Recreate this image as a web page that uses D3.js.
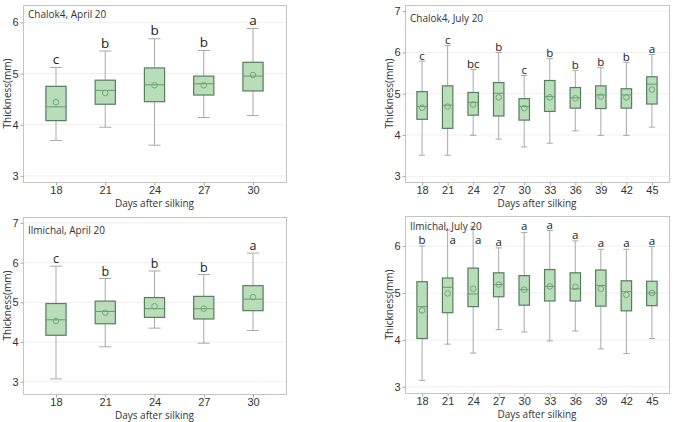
<!DOCTYPE html>
<meta charset="utf-8">
<head>
	<title>Thickness boxplots</title>
</head>
<style>
body { margin: 0; background: #fff; }
svg { display: block; font-family: "Open Sans", "Noto Sans", sans-serif; }
.frame { fill: none; stroke: #c4c4c4; }
.grid line { stroke: #efefef; }
.axis path { display: none; }
.axis line { stroke: #a8a8a8; }
.axis text { fill: #333; font-size: 11px; }
.whisker { stroke: #a9a9a9; }
.box { fill: #b9dcb9; stroke: #557f5e; stroke-width: 1.2; }
.median { stroke: #6a9a72; }
.mean { fill: none; stroke: #6fa878; stroke-width: 1; }
.letter { fill: #222; text-anchor: middle; }
.title, .xlab, .ylab { fill: #333; font-size: 10px; }
</style>
<body>
<svg width="673" height="422"></svg>

<script src="https://cdnjs.cloudflare.com/ajax/libs/d3/7.8.5/d3.min.js"></script>
<script>

// days after silking
var days5 = [18, 21, 24, 27, 30];
var days10 = [18, 21, 24, 27, 30, 33, 36, 39, 42, 45];

// each row: [min, q1, median, q3, max, mean]
var chalokApril = [
	[3.69, 4.08, 4.35, 4.75, 5.12, 4.44],
	[3.95, 4.40, 4.67, 4.87, 5.44, 4.62],
	[3.60, 4.45, 4.78, 5.11, 5.68, 4.77],
	[4.14, 4.58, 4.80, 4.95, 5.45, 4.77],
	[4.18, 4.66, 4.95, 5.22, 5.88, 4.97]
];
var chalokAprilLetters = ['c', 'b', 'b', 'b', 'a'];

var chalokJuly = [
	[3.51, 4.38, 4.69, 5.05, 5.79, 4.66],
	[3.51, 4.16, 4.72, 5.19, 6.17, 4.69],
	[3.99, 4.48, 4.79, 5.03, 5.59, 4.74],
	[3.90, 4.46, 5.01, 5.27, 6.00, 4.91],
	[3.71, 4.36, 4.69, 4.88, 5.44, 4.65],
	[3.80, 4.57, 4.93, 5.32, 5.85, 4.91],
	[4.10, 4.65, 4.90, 5.15, 5.56, 4.89],
	[3.99, 4.64, 4.97, 5.19, 5.63, 4.93],
	[3.99, 4.65, 4.97, 5.12, 5.76, 4.91],
	[4.19, 4.75, 5.23, 5.41, 5.95, 5.10]
];
var chalokJulyLetters = ['c', 'c', 'bc', 'b', 'c', 'b', 'b', 'b', 'b', 'a'];

var ilmichalApril = [
	[3.07, 4.17, 4.56, 4.97, 5.91, 4.53],
	[3.88, 4.46, 4.77, 5.03, 5.60, 4.74],
	[4.35, 4.62, 4.84, 5.12, 5.79, 4.90],
	[3.97, 4.58, 4.84, 5.15, 5.70, 4.84],
	[4.29, 4.79, 5.08, 5.42, 6.24, 5.13]
];
var ilmichalAprilLetters = ['c', 'b', 'b', 'b', 'a'];

var ilmichalJuly = [
	[3.14, 4.03, 4.71, 5.24, 6.00, 4.63],
	[3.91, 4.58, 5.12, 5.32, 6.34, 4.99],
	[3.72, 4.71, 4.98, 5.53, 6.41, 5.09],
	[4.22, 4.92, 5.18, 5.43, 5.96, 5.18],
	[4.17, 4.74, 5.07, 5.37, 6.29, 5.07],
	[3.98, 4.83, 5.14, 5.50, 6.33, 5.14],
	[4.19, 4.83, 5.09, 5.43, 6.11, 5.13],
	[3.81, 4.72, 5.16, 5.49, 5.93, 5.09],
	[3.71, 4.62, 5.03, 5.26, 5.93, 4.96],
	[4.03, 4.73, 5.00, 5.25, 5.99, 5.00]
];
var ilmichalJulyLetters = ['b', 'a', 'a', 'a', 'a', 'a', 'a', 'a', 'a', 'a'];
// letters that sit beside a tall whisker instead of on top of it
var ilmichalJulyLetterAt = [null, 6.0, 6.0, null, null, null, null, null, null, null];

var panels = [
	{title: 'Chalok4, April 20', days: days5, stats: chalokApril, letters: chalokAprilLetters,
	 x0: 23, x1: 286, y0: 5, y1: 182, dom: [2.88, 6.34], ticks: [3, 4, 5, 6], lf: 13.5, gap: 3.5, ty: 13},
	{title: 'Chalok4, July 20', days: days10, stats: chalokJuly, letters: chalokJulyLetters,
	 x0: 405, x1: 669, y0: 5, y1: 182, dom: [2.86, 7.15], ticks: [3, 4, 5, 6, 7], lf: 11.5, gap: 1.5, ty: 17},
	{title: 'Ilmichal, April 20', days: days5, stats: ilmichalApril, letters: ilmichalAprilLetters,
	 x0: 23, x1: 286, y0: 217, y1: 394, dom: [2.69, 7.15], ticks: [3, 4, 5, 6, 7], lf: 12.5, gap: 3, ty: 17},
	{title: 'Ilmichal, July 20', days: days10, stats: ilmichalJuly, letters: ilmichalJulyLetters, letterAt: ilmichalJulyLetterAt,
	 x0: 405, x1: 669, y0: 216, y1: 393, dom: [2.87, 6.64], ticks: [3, 4, 5, 6], lf: 11.5, gap: 2, ty: 14}
];

var svg = d3.select('svg');

panels.forEach(function(p) {
	var g = svg.append('g');

	var x = d3.scalePoint().domain(p.days).range([p.x0, p.x1]).padding(0.67);
	var y = d3.scaleLinear().domain(p.dom).range([p.y1, p.y0]);
	var bw = x.step() * 0.41;
	var cap = bw * 0.3;

	// faint gridlines
	g.append('g').attr('class', 'grid')
		.selectAll('line').data(p.ticks).enter().append('line')
		.attr('x1', p.x0).attr('x2', p.x1)
		.attr('y1', function(d){ return y(d); })
		.attr('y2', function(d){ return y(d); });

	g.append('rect').attr('class', 'frame')
		.attr('x', p.x0 + 0.5).attr('y', p.y0 + 0.5)
		.attr('width', p.x1 - p.x0).attr('height', p.y1 - p.y0);

	g.append('g').attr('class', 'axis')
		.attr('transform', 'translate(' + (p.x0 + 0.5) + ',0)')
		.call(d3.axisLeft(y).tickValues(p.ticks).tickFormat(d3.format('d')).tickSize(3).tickPadding(2));

	g.append('g').attr('class', 'axis')
		.attr('transform', 'translate(0,' + (p.y1 + 0.5) + ')')
		.call(d3.axisBottom(x).tickSize(3).tickPadding(1));

	var items = g.selectAll('.item').data(p.stats).enter().append('g')
		.attr('transform', function(d, i){ return 'translate(' + x(p.days[i]) + ',0)'; });

	// whiskers
	items.append('line').attr('class', 'whisker')
		.attr('x1', 0).attr('x2', 0)
		.attr('y1', function(d){ return y(d[0]); })
		.attr('y2', function(d){ return y(d[4]); });
	[0, 4].forEach(function(k) {
		items.append('line').attr('class', 'whisker')
			.attr('x1', -cap).attr('x2', cap)
			.attr('y1', function(d){ return y(d[k]); })
			.attr('y2', function(d){ return y(d[k]); });
	});

	items.append('rect').attr('class', 'box')
		.attr('x', -bw / 2).attr('width', bw)
		.attr('y', function(d){ return y(d[3]); })
		.attr('height', function(d){ return y(d[1]) - y(d[3]); });

	items.append('line').attr('class', 'median')
		.attr('x1', -bw / 2).attr('x2', bw / 2)
		.attr('y1', function(d){ return y(d[2]); })
		.attr('y2', function(d){ return y(d[2]); });

	items.append('circle').attr('class', 'mean')
		.attr('r', 2.8)
		.attr('cy', function(d){ return y(d[5]); });

	// significance letters
	items.append('text').attr('class', 'letter')
		.style('font-size', p.lf + 'px')
		.attr('x', function(d, i){ return p.letterAt && p.letterAt[i] != null ? 5 : 0; })
		.attr('y', function(d, i){
			var v = p.letterAt && p.letterAt[i] != null ? p.letterAt[i] : d[4];
			return y(v) - p.gap;
		})
		.text(function(d, i){ return p.letters[i]; });

	g.append('text').attr('class', 'title')
		.attr('x', p.x0 + 5).attr('y', p.y0 + p.ty)
		.text(p.title);

	g.append('text').attr('class', 'xlab')
		.attr('text-anchor', 'middle')
		.attr('x', (p.x0 + p.x1) / 2).attr('y', p.y1 + 25)
		.text('Days after silking');

	g.append('text').attr('class', 'ylab')
		.attr('text-anchor', 'middle')
		.attr('dy', '0.35em')
		.attr('transform', 'translate(' + (p.x0 - 16) + ',' + ((p.y0 + p.y1) / 2) + ') rotate(-90)')
		.text('Thickness(mm)');
});

</script>
</body>
</html>
